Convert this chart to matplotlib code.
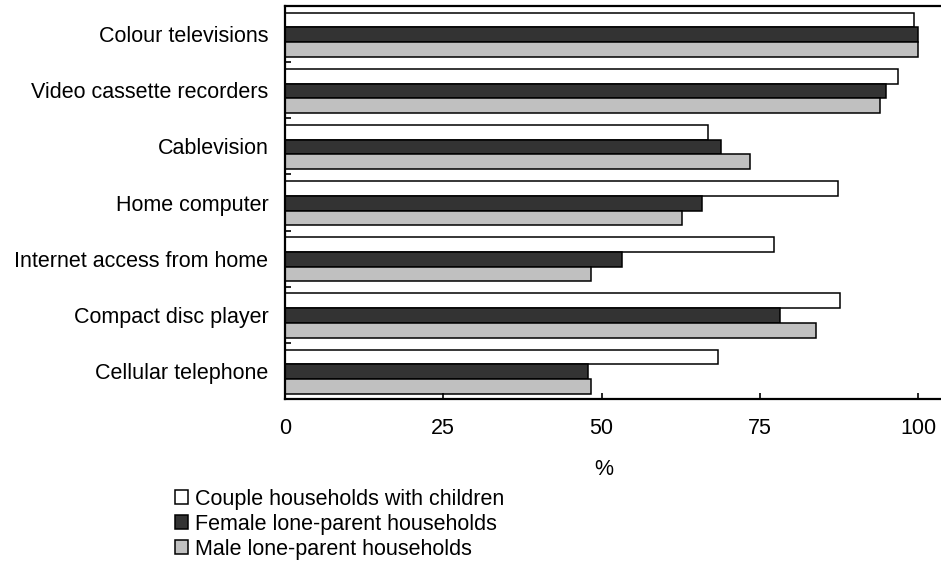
import matplotlib
matplotlib.use("Agg")
import matplotlib.pyplot as plt
import numpy as np
from matplotlib.patches import Patch

plt.rcParams["font.family"] = ["Liberation Sans", "DejaVu Sans"]

categories = [
    "Colour televisions",
    "Video cassette recorders",
    "Cablevision",
    "Home computer",
    "Internet access from home",
    "Compact disc player",
    "Cellular telephone",
]
couple = [99.3, 96.8, 66.8, 87.4, 77.3, 87.7, 68.4]
female = [99.9, 94.9, 68.8, 65.8, 53.3, 78.2, 47.9]
male = [99.9, 93.9, 73.4, 62.7, 48.3, 83.9, 48.3]
series_names = [
    "Couple households with children",
    "Female lone-parent households",
    "Male lone-parent households",
]
colors = ["#ffffff", "#333333", "#c0c0c0"]
xticks = [0, 25, 50, 75, 100]

FS = 15.5

fig = plt.figure(figsize=(9.41, 5.73), dpi=100)
ax = fig.add_axes([285 / 941, 1 - 399 / 573, 1 - 285 / 941, (399 - 6) / 573])

y = np.arange(len(categories))
h = 0.262
for k, (vals, col) in enumerate(zip([couple, female, male], colors)):
    ax.barh(y + (k - 1) * h + 0.012, vals, height=h, color=col,
            edgecolor="black", linewidth=1.1)

ax.set_ylim(len(categories) - 0.5, -0.5)
ax.set_xlim(0, 103.6)
ax.set_yticks(y)
ax.set_yticklabels(categories, fontsize=FS)
ax.set_yticks(np.arange(-0.5, len(categories)), minor=True)
ax.tick_params(axis="y", which="major", length=0, pad=12)
ax.tick_params(axis="y", which="minor", direction="in", length=4, width=1.2)
ax.set_xticks(xticks)
ax.set_xticklabels([str(t) for t in xticks], fontsize=FS)
ax.tick_params(axis="x", direction="in", length=4, width=1.2, pad=14)

for side in ["left", "bottom", "top"]:
    ax.spines[side].set_linewidth(1.6)
ax.spines["right"].set_visible(False)

# "%" label under the 50 tick
ax.text(50.4, len(categories) - 0.5 + (469 - 399) / 56, "%", fontsize=FS,
        ha="center", va="center", clip_on=False)

handles = [Patch(facecolor=c, edgecolor="black", linewidth=1.1) for c in colors]
fig.legend(handles, series_names, loc="upper left",
           bbox_to_anchor=(175 / 941, 1 - 489 / 573), frameon=False,
           fontsize=FS, handlelength=0.62, handleheight=0.62,
           handletextpad=0.3, labelspacing=0.18, borderpad=0, borderaxespad=0)

fig.savefig("out.png", dpi=100)
